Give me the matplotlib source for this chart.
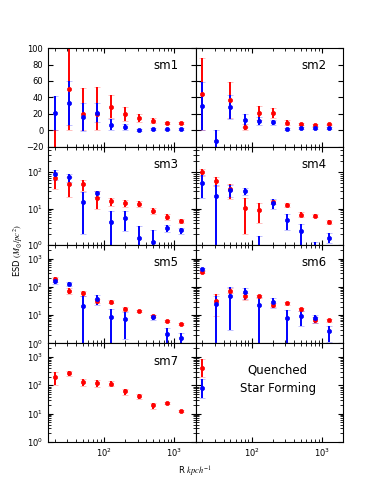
import numpy as np
import matplotlib
matplotlib.use('Agg')
import matplotlib.pyplot as plt

plt.rcParams['mathtext.fontset'] = 'stix'
plt.rcParams['font.size'] = 6

# radial bins (kpc/h)
r_bins = [20, 31.6, 50.1, 79.4, 126, 200, 316, 501, 794, 1259]

# sm1 (linear panel, asymmetric errors on the quenched points)
sm1_q = [-40, 50, 20, 20, 28.3, 19.7, 14.8, 11.5, 9.0, 8.6]
sm1_q_err = [[40, 50, 20, 20, 14, 9, 5, 3.3, 1.5, 1.5],
             [40, 50, 31, 32, 14, 9, 5, 3.3, 1.5, 1.5]]
sm1_sf = [21, 33, 16, 21, 6.6, 4.1, 0.4, 1.6, 0.8, 1.2]
sm1_sf_err = [21, 26.5, 16.5, 11.5, 6.6, 3.5, 1, 1, 1, 1]

sm2_q = [44, np.nan, 36.5, 4, 20.5, 20.5, 9, 7.4, 6.1, 7]
sm2_q_err = [44, np.nan, 22, 3.5, 8.6, 6, 3, 1.5, 1, 1]
sm2_sf = [29.5, -13, 28.7, 11.9, 10.7, 9.4, 1.2, 2.9, 2.5, 2.5]
sm2_sf_err = [29, 13.5, 14.5, 8, 5, 3, 1, 1, 1, 1]

sm3_q = [67, 46, 46, 20, 15.7, 13.9, 13.3, 8.7, 6.0, 4.5]
sm3_q_err = [33, 25, 15, 10, 4.3, 3, 2.5, 1.5, 1, 0.6]
sm3_sf = [88, 73, 15, 26, 4.2, 5.6, 1.6, 1.2, 2.9, 2.5]
sm3_sf_err = [29, 18, 13, 5, 4.1, 3.2, 1.7, 1.3, 0.6, 0.5]

sm4_q = [98, 57, 33.5, 10.5, 9.3, 15, 12.7, 6.8, 6.4, 4.3]
sm4_q_err = [22, 15, 15, 8.5, 5.3, 2, 1.5, 1, 0.6, 0.5]
sm4_sf = [51, 22, 32, 30, 0.5, 13.9, 4.7, 2.4, 0.5, 1.6]
sm4_sf_err = [32, 21.5, 11.5, 6.5, 1.3, 4, 2.2, 1.45, 0.73, 0.5]

sm5_q = [188, 74, 59, 31.6, 30, 16.8, 14.3, 9.5, 6.1, 5.0]
sm5_q_err = [35, 20, 13, 5, 4, 2.5, 1.5, 1, 0.6, 0.4]
sm5_sf = [159, 128, 21, 36, 8.3, 7.4, np.nan, 8.5, 2.1, 1.5]
sm5_sf_err = [37, 24, 25, 13.5, 8.2, 6, np.nan, 1.5, 1.3, 0.8]

sm6_q = [343, 32.5, 74, 49, 46, 22.8, 26, 16.4, 6.8, 6.5]
sm6_q_err = [40, 23, 14, 14, 6, 4, 3, 2, 1.5, 0.7]
sm6_sf = [416, 24, 49, 64.5, 22.8, 29, 7.8, 9.0, 7.8, 2.7]
sm6_sf_err = [60, 24, 46, 28, 22, 11.5, 7.7, 5, 2.4, 1.6]

sm7_q = [194, 262, 135, 118, 115, 61, 42.5, 19.7, 23.8, 12.6]
sm7_q_err = [90, 47, 38, 31, 23, 14, 8.5, 4.6, 2, 1.2]

# key points drawn in the empty panel
key_x = [20]
key_q = [408]
key_q_err = [[214], [450]]
key_sf = [78]
key_sf_err = [[41], [86]]

panels = [
    ('sm1', sm1_q, sm1_q_err, sm1_sf, sm1_sf_err),
    ('sm2', sm2_q, sm2_q_err, sm2_sf, sm2_sf_err),
    ('sm3', sm3_q, sm3_q_err, sm3_sf, sm3_sf_err),
    ('sm4', sm4_q, sm4_q_err, sm4_sf, sm4_sf_err),
    ('sm5', sm5_q, sm5_q_err, sm5_sf, sm5_sf_err),
    ('sm6', sm6_q, sm6_q_err, sm6_sf, sm6_sf_err),
    ('sm7', sm7_q, sm7_q_err, None, None),
]


def draw(ax, x, y, err, color):
    c = ax.errorbar(x, y, yerr=err, fmt='o', color=color, ms=3, mew=0.5,
                    elinewidth=1.4, capsize=2, capthick=1)
    for cap in c[1]:
        cap.set_alpha(0.35)


fig, axes = plt.subplots(4, 2, sharex=True, sharey='row', figsize=(3.82, 4.91), dpi=100)
fig.subplots_adjust(left=0.126, right=0.898, top=0.902, bottom=0.1,
                    wspace=0, hspace=0)
axes = axes.flatten()

for i, (name, q, qe, sf, sfe) in enumerate(panels):
    ax = axes[i]
    draw(ax, r_bins, q, qe, 'r')
    if sf is not None:
        draw(ax, r_bins, sf, sfe, 'b')
    ax.text(0.8, 0.82, name, transform=ax.transAxes, ha='center', va='center',
            fontsize=8.5)

ax = axes[7]
draw(ax, key_x, key_q, key_q_err, 'r')
draw(ax, key_x, key_sf, key_sf_err, 'b')
ax.text(0.556, 0.731, 'Quenched', transform=ax.transAxes, ha='center',
        va='center', fontsize=8.5)
ax.text(0.556, 0.538, 'Star Forming', transform=ax.transAxes, ha='center',
        va='center', fontsize=8.5)

for i, ax in enumerate(axes):
    ax.set_xscale('log')
    if i >= 2:
        ax.set_yscale('log')
    ax.tick_params(which='both', direction='in', top=True, right=True,
                   labelsize=6)
    ax.tick_params(which='major', length=3.5)
    ax.tick_params(which='minor', length=2)
    for s in ax.spines.values():
        s.set_linewidth(0.8)

axes[0].set_ylim(-20, 100)
axes[0].set_yticks([-20, 0, 20, 40, 60, 80, 100])
axes[2].set_ylim(1, 500)
axes[4].set_ylim(1, 3000)
axes[6].set_ylim(1, 3000)
axes[0].set_xlim(16, 2000)

fig.text(0.047, 0.49, r'ESD $(M_{\odot}/pc^2)$', rotation=90, ha='center',
         va='center', fontsize=6)
fig.text(0.511, 0.038, r'R $kpch^{-1}$', ha='center', va='center', fontsize=6)

fig.savefig('out.png', dpi=100)
